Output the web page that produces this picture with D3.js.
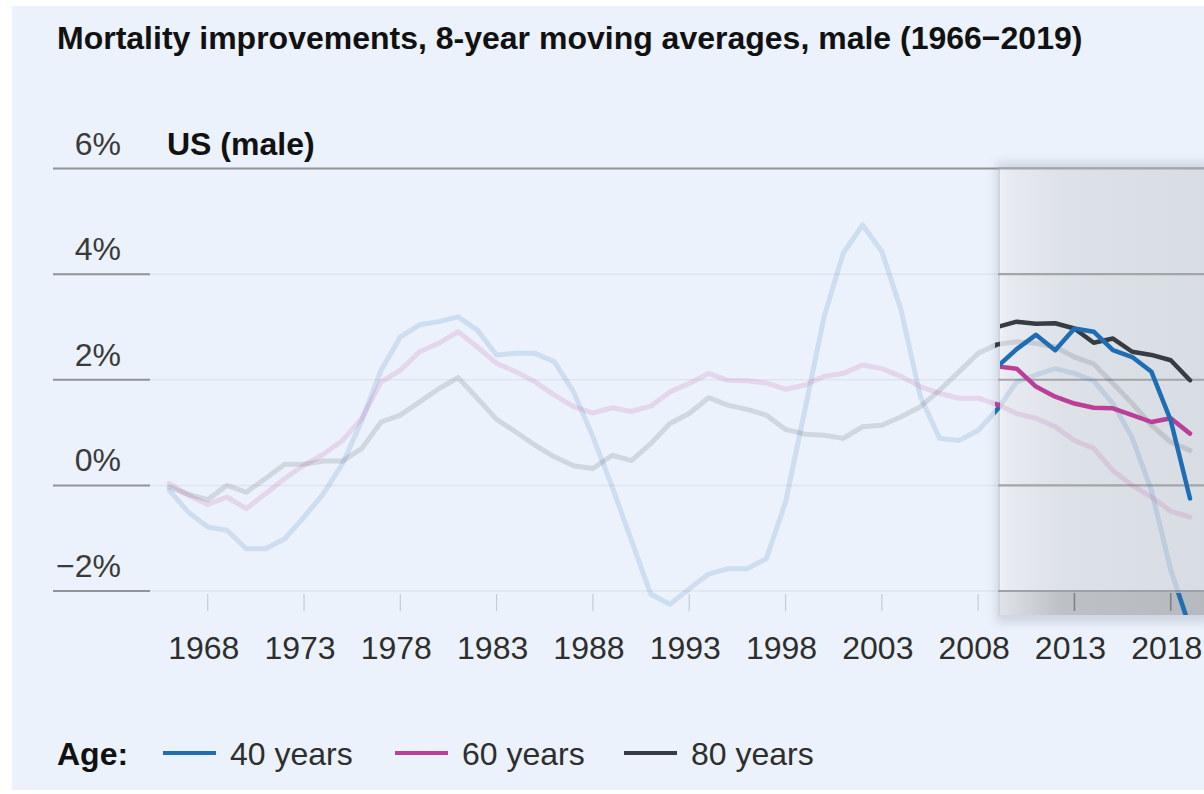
<!DOCTYPE html>
<html>
<head>
<meta charset="utf-8">
<script src="https://cdn.jsdelivr.net/npm/d3@7"></script>
<style>
  html, body { margin: 0; padding: 0; background: #ffffff; }
  svg { display: block; font-family: "Liberation Sans", Arial, Helvetica, sans-serif; }
</style>
</head>
<body>
<svg id="chart" width="1204" height="794"></svg>
<script>
// ---------------- DATA ----------------
const years = d3.range(1966, 2020);               // 1966 … 2019
const age40 = [-0.09,-0.51,-0.79,-0.85,-1.20,-1.20,-1.01,-0.60,-0.16,0.41,1.23,2.18,2.81,3.04,3.10,
               3.19,2.94,2.47,2.50,2.50,2.34,1.77,0.92,-0.03,-1.04,-2.06,-2.25,-1.96,-1.68,-1.58,
               -1.58,-1.39,-0.32,1.42,3.19,4.40,4.93,4.43,3.32,1.68,0.89,0.85,1.04,
               1.44,1.96,2.09,2.21,2.12,1.98,1.55,0.90,-0.10,-1.60,-2.70];
const age60 = [0.04,-0.19,-0.36,-0.22,-0.44,-0.16,0.13,0.38,0.59,0.85,1.27,1.96,2.18,2.53,2.69,
               2.91,2.62,2.31,2.15,1.96,1.71,1.49,1.37,1.47,1.40,1.50,1.77,1.93,2.12,1.99,
               1.98,1.94,1.82,1.90,2.06,2.12,2.28,2.21,2.06,1.87,1.74,1.65,1.65,
               1.53,1.36,1.27,1.11,0.85,0.70,0.28,0.00,-0.22,-0.49,-0.60];
const age80 = [-0.03,-0.17,-0.27,0.00,-0.13,0.13,0.40,0.40,0.46,0.46,0.70,1.20,1.33,1.58,1.83,
               2.04,1.65,1.25,1.01,0.76,0.54,0.37,0.32,0.57,0.47,0.79,1.17,1.36,1.66,1.52,
               1.44,1.33,1.06,0.97,0.95,0.89,1.11,1.14,1.30,1.49,1.80,2.15,2.50,
               2.67,2.72,2.69,2.62,2.43,2.30,1.93,1.55,1.14,0.82,0.66];

// highlighted panel (2009–2019)
const hlYears = d3.range(2009, 2020);
const hl40 = [2.25,2.58,2.85,2.56,2.97,2.91,2.56,2.43,2.15,1.23,-0.25];
const hl60 = [2.25,2.21,1.87,1.68,1.55,1.47,1.46,1.33,1.20,1.27,0.98];
const hl80 = [3.00,3.10,3.06,3.07,2.97,2.70,2.78,2.53,2.47,2.37,1.99];

const yTicks = [6, 4, 2, 0, -2];
const yTickLabels = ["6%", "4%", "2%", "0%", "\u22122%"];
const xTicks = [1968, 1973, 1978, 1983, 1988, 1993, 1998, 2003, 2008, 2013, 2018];
const seriesNames = ["40 years", "60 years", "80 years"];
const seriesColors = ["#1f6db3", "#bc3f97", "#363c42"];

const titleText = "Mortality improvements, 8-year moving averages, male (1966\u22122019)";
const panelTitle = "US (male)";
const legendTitle = "Age:";

// ---------------- LAYOUT ----------------
const svg = d3.select("#chart");
const W = 1204, H = 794;
const x = d3.scaleLinear().domain([1966, 2019]).range([169.2, 1190]);
const y = d3.scaleLinear().domain([-2, 6]).range([591, 168.5]);
const panelX = 1000, panelTop = 168, axisY = y(-2), stripBottom = 615;

const defs = svg.append("defs");

// gradients
const g1 = defs.append("linearGradient").attr("id", "panelGrad").attr("x1", 0).attr("x2", 1).attr("y1", 0).attr("y2", 0);
[[0, "#eef2f7"], [0.04, "#e7ebf1"], [0.3, "#dde2e8"], [1, "#d8dde3"]].forEach(s =>
  g1.append("stop").attr("offset", s[0]).attr("stop-color", s[1]));
const g2 = defs.append("linearGradient").attr("id", "stripGrad").attr("x1", 0).attr("x2", 1).attr("y1", 0).attr("y2", 0);
[[0, "#dfe3e8"], [0.3, "#bdc1c6"], [1, "#b6babf"]].forEach(s =>
  g2.append("stop").attr("offset", s[0]).attr("stop-color", s[1]));
defs.append("filter").attr("id", "blur").attr("x", "-20%").attr("y", "-20%").attr("width", "140%").attr("height", "140%")
  .append("feGaussianBlur").attr("stdDeviation", 5);

// clips
defs.append("clipPath").attr("id", "clipMain").append("rect")
  .attr("x", 0).attr("y", 0).attr("width", W).attr("height", stripBottom);
defs.append("clipPath").attr("id", "clipPanel").append("rect")
  .attr("x", panelX).attr("y", panelTop).attr("width", W - panelX).attr("height", stripBottom - panelTop);
const cf = defs.append("clipPath").attr("id", "clipFrame");
cf.append("rect").attr("x", panelX - 5).attr("y", panelTop).attr("width", 5).attr("height", stripBottom - panelTop);
cf.append("rect").attr("x", panelX).attr("y", axisY + 2).attr("width", W - panelX).attr("height", stripBottom - axisY - 2);

// background
svg.append("rect").attr("x", 12).attr("y", 6).attr("width", W - 12).attr("height", 784).attr("fill", "#ebf2fb");

// main gridlines
const grid = svg.append("g");
yTicks.forEach(t => {
  if (t === 6) {
    grid.append("line").attr("x1", 53).attr("x2", W).attr("y1", y(t)).attr("y2", y(t))
      .attr("stroke", "#909397").attr("stroke-width", 2);
  } else {
    grid.append("line").attr("x1", 150).attr("x2", panelX).attr("y1", y(t)).attr("y2", y(t))
      .attr("stroke", "#dfe5ed").attr("stroke-width", 1.5);
    grid.append("line").attr("x1", 53).attr("x2", 150).attr("y1", y(t)).attr("y2", y(t))
      .attr("stroke", "#909397").attr("stroke-width", 2);
  }
});
// x ticks (main)
xTicks.filter(t => x(t) < panelX).forEach(t => {
  grid.append("line").attr("x1", x(t)).attr("x2", x(t)).attr("y1", axisY + 3).attr("y2", axisY + 20)
    .attr("stroke", "#c6ccd3").attr("stroke-width", 1.2);
});

// panel shadow + panel
svg.append("rect").attr("x", panelX - 4).attr("y", panelTop - 6).attr("width", W - panelX + 10).attr("height", stripBottom - panelTop + 14)
  .attr("fill", "#8a97a6").attr("opacity", 0.3).attr("filter", "url(#blur)");
svg.append("rect").attr("x", panelX).attr("y", panelTop).attr("width", W - panelX).attr("height", axisY - panelTop)
  .attr("fill", "url(#panelGrad)");
svg.append("rect").attr("x", panelX).attr("y", axisY).attr("width", W - panelX).attr("height", stripBottom - axisY)
  .attr("fill", "url(#stripGrad)");
svg.append("line").attr("x1", panelX - 1).attr("x2", panelX - 1).attr("y1", panelTop).attr("y2", stripBottom)
  .attr("stroke", "#cdd2d8").attr("stroke-width", 1.5);
const pg = svg.append("g");
yTicks.forEach(t => {
  pg.append("line").attr("x1", panelX - 2).attr("x2", W).attr("y1", y(t)).attr("y2", y(t))
    .attr("stroke", t === -2 ? "#9ea2a6" : "#a2a6aa").attr("stroke-width", t === 6 ? 2 : 2.2);
});
xTicks.filter(t => x(t) >= panelX).forEach(t => {
  pg.append("line").attr("x1", x(t)).attr("x2", x(t)).attr("y1", axisY + 2).attr("y2", axisY + 20)
    .attr("stroke", "#7f8388").attr("stroke-width", 1.6);
});

// lines
const line = d3.line().x(d => x(d[0])).y(d => y(d[1])).curve(d3.curveLinear);
const faded = [age40, age60, age80].map(arr => years.map((yr, i) => [yr, arr[i]]));
const hl = [hl40, hl60, hl80].map(arr => hlYears.map((yr, i) => [yr, arr[i]]));

const fadedG = svg.append("g").attr("clip-path", "url(#clipMain)");
faded.forEach((pts, i) => {
  fadedG.append("path").attr("d", line(pts)).attr("fill", "none")
    .attr("stroke", seriesColors[i]).attr("stroke-opacity", 0.15)
    .attr("stroke-width", 5).attr("stroke-linejoin", "round").attr("stroke-linecap", "round");
});
const frameG = svg.append("g").attr("clip-path", "url(#clipFrame)");
faded.forEach((pts, i) => {
  frameG.append("path").attr("d", line(pts)).attr("fill", "none")
    .attr("stroke", seriesColors[i]).attr("stroke-width", 4.5).attr("stroke-linejoin", "round");
});
const hlG = svg.append("g").attr("clip-path", "url(#clipPanel)");
[2, 1, 0].forEach(i => {
  hlG.append("path").attr("d", line(hl[i])).attr("fill", "none")
    .attr("stroke", seriesColors[i]).attr("stroke-width", 4.5).attr("stroke-linejoin", "round").attr("stroke-linecap", "round");
});

// texts
svg.append("text").attr("x", 57).attr("y", 49).attr("font-size", 32).attr("font-weight", "bold")
  .attr("fill", "#111").text(titleText);
svg.append("text").attr("x", 167).attr("y", 155).attr("font-size", 32).attr("font-weight", "bold")
  .attr("fill", "#111").text(panelTitle);
yTicks.forEach((t, i) => {
  svg.append("text").attr("x", 121).attr("y", y(t) - 14).attr("text-anchor", "end")
    .attr("font-size", 32).attr("fill", "#3a3a3a").text(yTickLabels[i]);
});
xTicks.forEach(t => {
  svg.append("text").attr("x", x(t) - 4).attr("y", 659).attr("text-anchor", "middle")
    .attr("font-size", 32).attr("fill", "#2e2e2e").text(String(t));
});

// legend
const lg = svg.append("g");
lg.append("text").attr("x", 57).attr("y", 765).attr("font-size", 32).attr("font-weight", "bold")
  .attr("fill", "#111").text(legendTitle);
const legX = [163, 395, 624];
seriesNames.forEach((n, i) => {
  lg.append("line").attr("x1", legX[i]).attr("x2", legX[i] + 53).attr("y1", 753).attr("y2", 753)
    .attr("stroke", seriesColors[i]).attr("stroke-width", 4);
  lg.append("text").attr("x", legX[i] + 67).attr("y", 765).attr("font-size", 32)
    .attr("fill", "#2e2e2e").text(n);
});
</script>
</body>
</html>
